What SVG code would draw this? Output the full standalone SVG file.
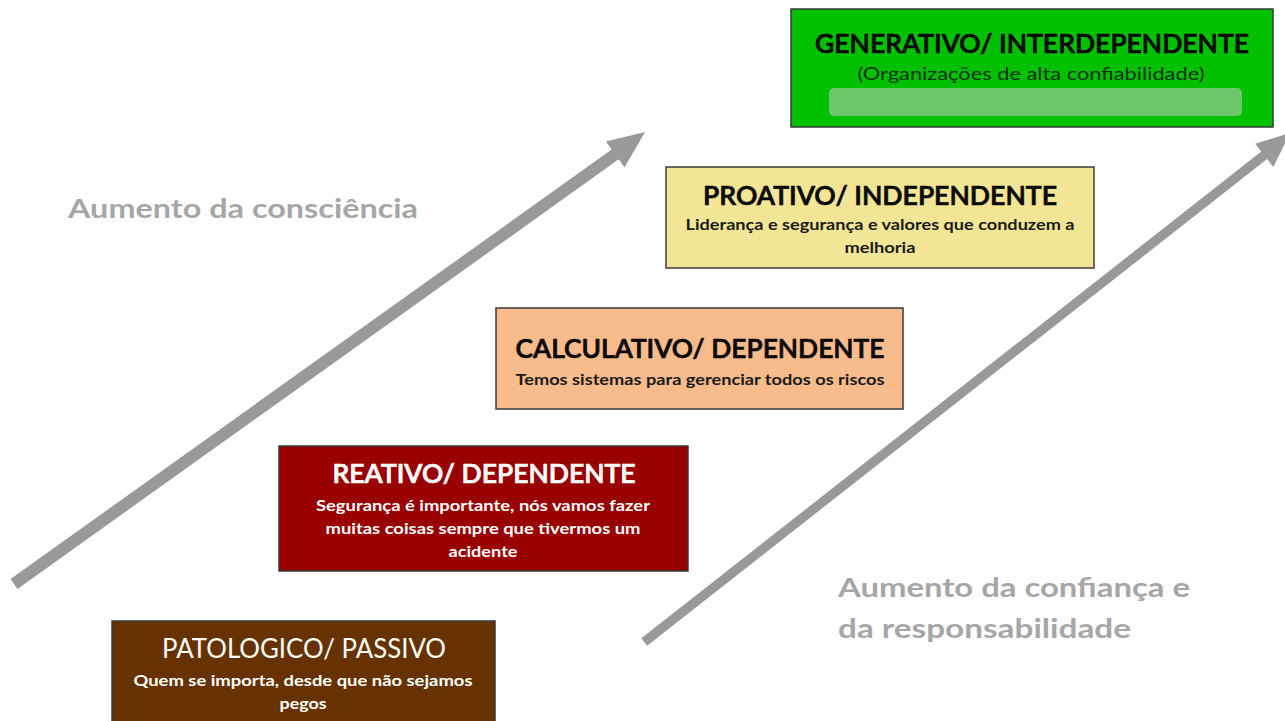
<svg xmlns="http://www.w3.org/2000/svg" width="1285" height="721" viewBox="0 0 1285 721">
<style>
text{font-family:Lato,"Open Sans","Liberation Sans",sans-serif;text-anchor:middle}
.box{stroke:#3a3a3a;stroke-width:1.5}
.t{font-size:26px;font-weight:600;stroke-width:0.7}
.s{font-size:15px;font-weight:700}
.lbl{font-size:26px;font-weight:700;fill:#a6a6a6;text-anchor:start}
.arr{fill:#999999}
</style>
<rect width="1285" height="721" fill="#ffffff"/>
<g id="connectors">
<path class="arr" d="M10.5,579.1 L611.7,149.5 L605.9,141.4 L645,132 L624.5,167.5 L618.7,159.3 L17.5,588.9 Z"/>
<path class="arr" d="M641.3,638.3 L1261.3,151.6 L1255.1,143.7 L1290,133 L1273.3,167 L1267.1,159.1 L647.1,645.7 Z"/>
</g>
<g id="label-consciencia"><text class="lbl" x="68" y="218" textLength="350" lengthAdjust="spacingAndGlyphs">Aumento da consciência</text></g>
<g id="label-confianca">
<text class="lbl" x="838" y="597" textLength="352" lengthAdjust="spacingAndGlyphs">Aumento da confiança e</text>
<text class="lbl" x="838" y="638" textLength="293" lengthAdjust="spacingAndGlyphs">da responsabilidade</text>
</g>
<g id="generativo">
<rect class="box" x="791" y="9" width="482" height="118" fill="#00c000"/>
<rect x="829" y="88" width="413" height="28" rx="5" fill="#6cc66c"/>
<text class="t" x="1032" y="53" fill="#0a0a0a" stroke="#0a0a0a" textLength="434" lengthAdjust="spacingAndGlyphs">GENERATIVO/ INTERDEPENDENTE</text>
<text x="1031" y="80" fill="#143214" font-size="17" textLength="347" lengthAdjust="spacingAndGlyphs">(Organizações de alta confiabilidade)</text>
</g>
<g id="proativo">
<rect class="box" x="666" y="167" width="428" height="101" fill="#f2e595"/>
<text class="t" x="880" y="205" fill="#0a0a0a" stroke="#0a0a0a" textLength="354" lengthAdjust="spacingAndGlyphs">PROATIVO/ INDEPENDENTE</text>
<text class="s" x="880" y="230" fill="#1a1a1a" textLength="389" lengthAdjust="spacingAndGlyphs">Liderança e segurança e valores que conduzem a</text>
<text class="s" x="880" y="253" fill="#1a1a1a" textLength="71" lengthAdjust="spacingAndGlyphs">melhoria</text>
</g>
<g id="calculativo">
<rect class="box" x="496" y="308" width="407" height="101" fill="#f8bb8c"/>
<text class="t" x="700" y="358" fill="#0a0a0a" stroke="#0a0a0a" textLength="369" lengthAdjust="spacingAndGlyphs">CALCULATIVO/ DEPENDENTE</text>
<text class="s" x="700" y="385" fill="#1a1a1a" textLength="369" lengthAdjust="spacingAndGlyphs">Temos sistemas para gerenciar todos os riscos</text>
</g>
<g id="reativo">
<rect class="box" x="279" y="446" width="409" height="125" fill="#990000"/>
<text class="t" x="484" y="483" fill="#ffffff" stroke="#ffffff" textLength="303" lengthAdjust="spacingAndGlyphs">REATIVO/ DEPENDENTE</text>
<text class="s" x="483" y="511" fill="#ffffff" textLength="334" lengthAdjust="spacingAndGlyphs">Segurança é importante, nós vamos fazer</text>
<text class="s" x="483" y="534" fill="#ffffff" textLength="315" lengthAdjust="spacingAndGlyphs">muitas coisas sempre que tivermos um</text>
<text class="s" x="483" y="557" fill="#ffffff" textLength="69" lengthAdjust="spacingAndGlyphs">acidente</text>
</g>
<g id="patologico">
<rect class="box" x="112" y="621" width="383" height="110" fill="#663300"/>
<text x="304" y="658" fill="#ffffff" font-size="26" textLength="284" lengthAdjust="spacingAndGlyphs">PATOLOGICO/ PASSIVO</text>
<text class="s" x="303" y="686" fill="#ffffff" textLength="339" lengthAdjust="spacingAndGlyphs">Quem se importa, desde que não sejamos</text>
<text class="s" x="303" y="709" fill="#ffffff" textLength="47" lengthAdjust="spacingAndGlyphs">pegos</text>
</g>
</svg>
